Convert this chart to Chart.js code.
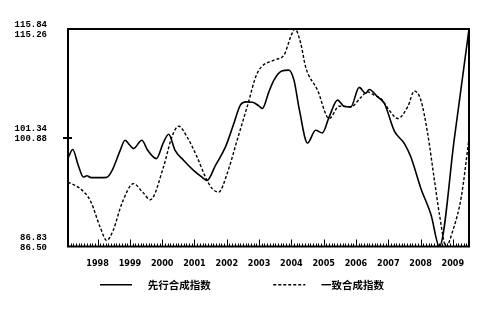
<!DOCTYPE html>
<html>
<head>
<meta charset="utf-8">
<script src="https://cdn.jsdelivr.net/npm/chart.js"></script>
<style>
  body { margin: 0; background: #fff; }
  #wrap { width: 500px; height: 311px; }
</style>
</head>
<body>
<div id="wrap">
  <canvas id="indexChart"></canvas>
</div>

<script>

const seriesNames = ['先行合成指数', '一致合成指数'];
const yearLabels = [1998, 1999, 2000, 2001, 2002, 2003, 2004, 2005, 2006, 2007, 2008, 2009];

// leading index (solid), x in decimal years
const leadT = [1997.08, 1997.23, 1997.40, 1997.56, 1997.67, 1997.80, 1998.10, 1998.28, 1998.45, 1998.70,
  1998.85, 1999.00, 1999.11, 1999.37, 1999.55, 1999.82, 2000.04, 2000.20, 2000.40, 2000.66,
  2000.97, 2001.20, 2001.39, 2001.65, 2001.96, 2002.20, 2002.42, 2002.60, 2002.80, 2003.00,
  2003.10, 2003.30, 2003.46, 2003.70, 2003.92, 2004.08, 2004.25, 2004.50, 2004.75, 2004.96,
  2005.17, 2005.43, 2005.63, 2005.84, 2006.10, 2006.30, 2006.41, 2006.67, 2006.88, 2007.19,
  2007.50, 2007.70, 2008.01, 2008.33, 2008.58, 2009.05, 2009.50];
const leadValues = [98.59, 99.76, 97.66, 96.09, 96.26, 96.01, 96.01, 96.05, 96.99, 99.66,
  101.00, 100.33, 99.89, 101.00, 99.66, 98.55, 100.73, 101.80, 99.66, 98.33,
  96.99, 96.19, 95.65, 97.66, 100.11, 103.01, 105.68, 106.12, 106.08, 105.55,
  105.24, 107.42, 109.02, 110.23, 110.36, 109.02, 105.01, 100.64, 102.34, 101.98,
  104.12, 106.35, 105.55, 105.45, 108.05, 107.25, 107.78, 106.79, 105.91, 102.21,
  100.56, 98.77, 94.58, 90.97, 86.83, 101.34, 115.84];

// coincident index (dashed)
const coinT = [1997.08, 1997.46, 1997.77, 1998.08, 1998.28, 1998.48, 1998.75, 1999.11, 1999.40, 1999.63,
  2000.04, 2000.30, 2000.51, 2000.77, 2001.08, 2001.34, 2001.55, 2001.75, 2002.01, 2002.32,
  2002.63, 2002.94, 2003.46, 2003.77, 2003.98, 2004.11, 2004.29, 2004.44, 2004.81, 2005.17,
  2005.48, 2005.84, 2006.15, 2006.36, 2006.56, 2006.77, 2007.03, 2007.29, 2007.60, 2007.81,
  2008.01, 2008.22, 2008.43, 2008.58, 2008.79, 2009.00, 2009.26, 2009.50];
const coinValues = [95.02, 94.15, 92.60, 89.06, 87.30, 88.62, 92.16, 94.81, 93.66, 92.69,
  97.01, 100.99, 102.40, 100.99, 98.33, 95.68, 94.15, 93.70, 96.13, 100.55,
  104.96, 109.39, 111.15, 111.81, 114.24, 115.26, 113.36, 110.26, 107.17, 103.42,
  105.05, 104.96, 106.21, 106.95, 106.51, 106.07, 104.52, 103.42, 104.96, 107.04,
  105.85, 101.44, 95.25, 90.87, 86.50, 88.62, 93.03, 100.77];

const leadTicks = [86.83, 101.34, 115.84];
const coinTicks = [86.50, 100.88, 115.26];

const xStart = 1997 + 1 / 12;
const xEnd = 2009.5;

// frame, the inward month ticks and the single y tick mark
const frameAndTicks = {
  id: 'frameAndTicks',
  afterDatasetsDraw(chart) {
    const { ctx, chartArea: a, scales: { x, y } } = chart;
    ctx.save();
    ctx.strokeStyle = '#000';
    ctx.lineWidth = 1;
    ctx.beginPath();
    for (let m = 0; ; m++) {
      const t = xStart + m / 12;
      if (t > xEnd + 1e-6) break;
      const px = Math.round(x.getPixelForValue(t)) + 0.5;
      const major = Math.abs(t - Math.round(t)) < 1e-6;
      ctx.moveTo(px, a.bottom);
      ctx.lineTo(px, a.bottom - (major ? 7 : 3));
    }
    ctx.stroke();

    const py = Math.round(y.getPixelForValue(leadTicks[1]));
    ctx.lineWidth = 2;
    ctx.beginPath();
    ctx.moveTo(a.left - 5, py);
    ctx.lineTo(a.left + 4, py);
    ctx.stroke();

    ctx.strokeRect(a.left, a.top, a.right - a.left, a.bottom - a.top);
    ctx.restore();
  }
};

const tickFont = { family: "'Liberation Sans Narrow', 'DejaVu Sans Condensed', sans-serif", size: 9, weight: 'bold' };

new Chart(document.getElementById('indexChart'), {
  type: 'line',
  data: {
    datasets: [{
      label: seriesNames[0],
      data: leadT.map((t, i) => ({ x: t, y: leadValues[i] })),
      yAxisID: 'y',
      borderColor: '#000',
      borderWidth: 1.6,
      pointRadius: 0,
      cubicInterpolationMode: 'monotone',
      fill: false
    }, {
      label: seriesNames[1],
      data: coinT.map((t, i) => ({ x: t, y: coinValues[i] })),
      yAxisID: 'y2',
      borderColor: '#000',
      borderWidth: 1.4,
      borderDash: [3, 2],
      pointRadius: 0,
      cubicInterpolationMode: 'monotone',
      fill: false
    }]
  },
  options: {
    responsive: true,
    maintainAspectRatio: false,
    animation: false,
    layout: { padding: { left: 15, right: 31, top: 29, bottom: 11 } },
    plugins: {
      tooltip: { enabled: false },
      legend: {
        position: 'bottom',
        labels: {
          usePointStyle: true,
          pointStyle: 'line',
          pointStyleWidth: 32,
          padding: 10,
          color: '#000',
          font: { family: "'Noto Sans CJK SC', sans-serif", size: 10.5, weight: 'bold' },
          generateLabels(chart) {
            const items = Chart.defaults.plugins.legend.labels.generateLabels(chart);
            items.forEach((item, i) => {
              const ds = chart.data.datasets[i];
              item.lineDash = ds.borderDash || [];
              item.lineWidth = ds.borderWidth;
              item.strokeStyle = ds.borderColor;
            });
            items[0].text = '\u3000' + items[0].text + '\u3000'.repeat(5);
            items[1].text = '\u3000' + items[1].text;
            return items;
          }
        }
      }
    },
    scales: {
      x: {
        type: 'linear',
        min: xStart,
        max: xEnd,
        afterBuildTicks: scale => { scale.ticks = yearLabels.map(v => ({ value: v })); },
        afterFit: scale => { scale.height = 23; },
        grid: { display: false, drawTicks: false },
        border: { display: false },
        ticks: {
          color: '#000',
          font: tickFont,
          padding: 12,
          maxRotation: 0,
          autoSkip: false,
          callback: v => String(v)
        }
      },
      y: {
        position: 'left',
        min: leadTicks[0],
        max: leadTicks[2],
        afterBuildTicks: scale => { scale.ticks = leadTicks.map(v => ({ value: v })); },
        afterFit: scale => {
          scale.width = 53;
          scale.paddingTop = 10;
          scale.paddingBottom = 10;
        },
        grid: { display: false, drawTicks: false },
        border: { display: false },
        ticks: {
          color: '#000',
          font: { family: "'Liberation Mono', monospace", size: 9, weight: 'bold', lineHeight: 1.1 },
          padding: 21,
          labelOffset: -4,
          autoSkip: false,
          callback: (v, i) => {
            const pair = [leadTicks[i].toFixed(2), coinTicks[i].toFixed(2)];
            // the top pair sits centred on the frame, so push it down half a line
            return i === leadTicks.length - 1 ? [''].concat(pair) : pair;
          }
        }
      },
      y2: {
        display: false,
        min: coinTicks[0],
        max: coinTicks[2]
      }
    }
  },
  plugins: [frameAndTicks]
});

</script>

</body>
</html>
